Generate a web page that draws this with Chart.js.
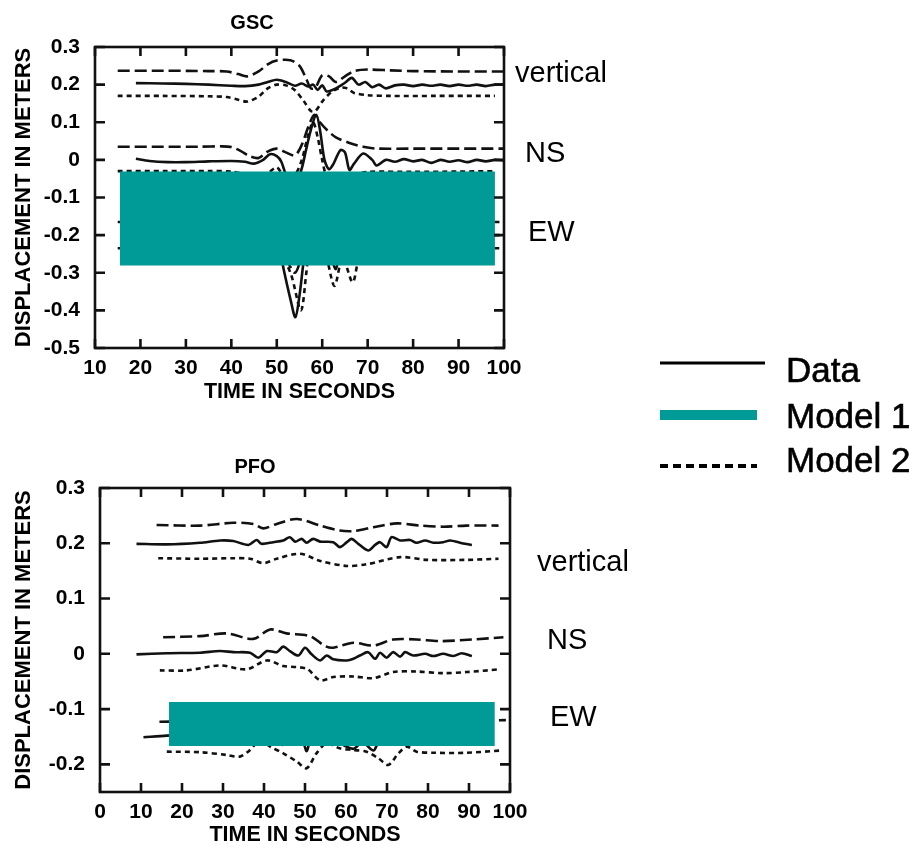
<!DOCTYPE html>
<html>
<head>
<meta charset="utf-8">
<script src="https://cdn.jsdelivr.net/npm/chart.js@4.4.1/dist/chart.umd.min.js"></script>
<style>
  body { margin: 0; background: #fff; }
  #page { position: relative; width: 921px; height: 849px; overflow: hidden; font-family: "Liberation Sans", Arial, sans-serif; }
  canvas { position: absolute; }
  .lbl { position: absolute; font-size: 29px; line-height: 1; color: #000; white-space: nowrap; }
  .leg { position: absolute; font-size: 35px; line-height: 1; color: #000; white-space: nowrap; -webkit-text-stroke: 0.6px #000; }
</style>
</head>
<body>
<div id="page">
  <canvas id="gsc" width="600" height="410" style="left:0;top:0"></canvas>
  <canvas id="pfo" width="606" height="409" style="left:0;top:440px"></canvas>

  <span class="lbl" style="left:515px;top:58px">vertical</span>
  <span class="lbl" style="left:525px;top:138px">NS</span>
  <span class="lbl" style="left:528px;top:217px">EW</span>
  <span class="lbl" style="left:537px;top:547px">vertical</span>
  <span class="lbl" style="left:547px;top:625px">NS</span>
  <span class="lbl" style="left:550px;top:702px">EW</span>

  <svg style="position:absolute;left:0;top:0" width="921" height="849">
    <line x1="660" y1="363" x2="765" y2="363" stroke="#000" stroke-width="3"/>
    <line x1="660" y1="415" x2="757" y2="415" stroke="#009a97" stroke-width="10"/>
    <line x1="660" y1="466" x2="757" y2="466" stroke="#000" stroke-width="4" stroke-dasharray="8 5"/>
  </svg>
  <span class="leg" style="left:786px;top:352px">Data</span>
  <span class="leg" style="left:786px;top:398px">Model 1</span>
  <span class="leg" style="left:786px;top:442px">Model 2</span>
</div>

<script>
// GSC station, [time s, displacement m]
const gscVerticalData = [[19,0.204],[25,0.203],[30,0.202],[35,0.2],[40,0.197],[43,0.196],[46,0.2],[48,0.207],[50,0.213],[52,0.207],[54,0.197],[55.5,0.203],[57,0.195],[58,0.2],[59,0.186],[60,0.198],[61,0.182],[63,0.19],[65,0.205],[66.5,0.218],[68,0.2],[69.5,0.207],[71,0.193],[72.5,0.2],[74,0.19],[76,0.198],[78,0.2],[80,0.196],[82,0.2],[84,0.197],[86,0.2],[88,0.196],[90,0.2],[92,0.197],[94,0.2],[96,0.196],[98,0.2],[100,0.2]];
const gscVerticalModel1 = [[15,0.237],[25,0.237],[35,0.236],[39,0.235],[41.5,0.228],[43.5,0.222],[46,0.235],[48,0.254],[50,0.264],[53,0.265],[55,0.25],[56.5,0.215],[57.5,0.19],[58.5,0.192],[60,0.225],[61.5,0.222],[63,0.207],[65,0.222],[67,0.236],[70,0.24],[75,0.238],[80,0.236],[90,0.235],[100,0.235]];
const gscVerticalModel2 = [[15,0.17],[25,0.17],[35,0.169],[39,0.167],[41.5,0.16],[43.5,0.155],[46,0.168],[48,0.19],[50,0.2],[52,0.198],[54,0.185],[56,0.155],[57.5,0.13],[58.5,0.13],[60,0.155],[62,0.18],[64,0.192],[65.5,0.19],[67,0.178],[70,0.172],[75,0.17],[85,0.17],[98,0.17]];
const gscNSData = [[19,0.003],[22,-0.003],[26,-0.006],[30,-0.006],[35,-0.004],[40,-0.003],[43,-0.005],[45,-0.01],[47,0],[48.5,0.015],[50,0.01],[51,-0.005],[52,-0.04],[53,-0.06],[55,-0.04],[56.5,0.03],[57.5,0.08],[58.7,0.12],[59.5,0.08],[60.5,0],[61.5,-0.025],[62.5,-0.01],[64,0.026],[65,0.02],[66,-0.027],[67,-0.01],[69,0.017],[71,0],[72,-0.015],[74,0],[76,-0.005],[78,0.002],[80,-0.004],[82,0],[84,-0.008],[86,0],[88,-0.005],[90,-0.001],[92,-0.006],[94,0],[96,-0.004],[98,0],[100,-0.002]];
const gscNSModel1 = [[15,0.035],[25,0.035],[33,0.035],[38,0.036],[40,0.034],[42,0.024],[44,0.01],[46,0.005],[48,0.022],[50,0.03],[52,0.02],[54,0.012],[55.5,0.04],[57,0.09],[58.3,0.12],[59.5,0.1],[61,0.08],[63,0.06],[66,0.045],[69,0.035],[72,0.03],[80,0.03],[90,0.03],[100,0.03]];
const gscNSModel2 = [[15,-0.03],[25,-0.03],[35,-0.03],[40,-0.031],[44,-0.04],[48,-0.035],[50,-0.02],[52,-0.05],[54,-0.04],[55.5,0],[57,0.07],[58,0.1],[59,0.06],[60,0],[61,-0.04],[64,-0.05],[67,-0.04],[70,-0.032],[80,-0.032],[90,-0.031],[98,-0.03]];
const gscEWData = [[19,-0.2],[30,-0.2],[40,-0.2],[46,-0.19],[49,-0.2],[50.5,-0.23],[51.5,-0.29],[53,-0.37],[54.1,-0.418],[55,-0.36],[55.8,-0.28],[57,-0.17],[58.5,-0.12],[60,-0.18],[62,-0.26],[63,-0.29],[64,-0.24],[66,-0.2],[67,-0.26],[68,-0.22],[71,-0.2],[80,-0.2],[90,-0.2],[99,-0.2]];
const gscEWModel1 = [[15,-0.165],[30,-0.165],[45,-0.165],[50,-0.2],[52,-0.26],[54,-0.3],[55.5,-0.25],[57,-0.15],[59,-0.12],[61,-0.2],[62.5,-0.27],[64,-0.2],[66,-0.22],[67,-0.25],[69,-0.18],[75,-0.165],[90,-0.165],[99,-0.165]];
const gscEWModel2 = [[15,-0.235],[30,-0.235],[45,-0.235],[50,-0.24],[53,-0.3],[55.3,-0.4],[56.5,-0.3],[57.5,-0.2],[59,-0.18],[61,-0.26],[62.7,-0.335],[64.5,-0.26],[66.7,-0.325],[68.5,-0.25],[72,-0.235],[85,-0.235],[99,-0.235]];
const gscBoxX = [15.5, 98];
const gscBoxY = [-0.031, -0.281];

// PFO station
const pfoVerticalData = [[8.9,0.199],[16.3,0.198],[24.4,0.201],[29.3,0.205],[32.5,0.204],[36.2,0.197],[38.2,0.206],[39.4,0.199],[42.3,0.202],[44.7,0.205],[46.3,0.211],[47.6,0.203],[49.2,0.208],[50.4,0.201],[52,0.208],[53.7,0.203],[56.9,0.202],[58.5,0.193],[60.2,0.202],[61.4,0.208],[63,0.199],[65.4,0.187],[67.1,0.197],[68.3,0.202],[69.9,0.193],[71.1,0.211],[73.2,0.205],[75.6,0.206],[77.2,0.201],[79.3,0.205],[81.3,0.201],[83.7,0.202],[85.4,0.205],[87.8,0.201],[90.7,0.197]];
const pfoVerticalModel1 = [[13.8,0.233],[24.4,0.232],[32.5,0.237],[37.4,0.235],[39.8,0.227],[43.1,0.235],[48,0.244],[53.7,0.232],[58.5,0.223],[61.8,0.222],[66.7,0.229],[72.4,0.236],[78,0.232],[83.7,0.23],[89.4,0.232],[97.2,0.232]];
const pfoVerticalModel2 = [[14.2,0.173],[24.4,0.172],[32.5,0.173],[36.6,0.172],[39.8,0.164],[43.1,0.172],[48.8,0.181],[53.7,0.168],[60.2,0.159],[65,0.162],[73.2,0.175],[79.7,0.17],[89.4,0.17],[97.2,0.172]];
const pfoNSData = [[8.9,-0.001],[16.3,0.001],[24.4,0.002],[29.3,0.005],[32.5,0.003],[36.6,0.002],[38.6,-0.007],[40.7,0.005],[43.1,0.003],[44.7,0.013],[46.3,0.005],[48.4,-0.003],[50,0.011],[51.6,-0.001],[53.7,-0.012],[55.3,-0.003],[56.9,-0.01],[60.2,-0.012],[61.8,-0.009],[63.4,-0.003],[65.4,0.003],[67.1,-0.009],[68.3,0.002],[69.9,-0.007],[71.5,0.003],[73.2,-0.005],[74.4,0.003],[76.4,-0.003],[79.3,0],[81.3,-0.004],[83.7,0],[86.2,-0.004],[88.2,0.001],[90.7,-0.004]];
const pfoNSModel1 = [[15.4,0.03],[24.4,0.032],[30.9,0.037],[37.4,0.027],[41.5,0.044],[45.5,0.037],[51.2,0.032],[54.9,0.014],[56.9,0.011],[61.8,0.02],[66.7,0.015],[71.5,0.026],[77.2,0.026],[82.9,0.023],[91,0.026],[98.4,0.03]];
const pfoNSModel2 = [[14.6,-0.03],[21.1,-0.03],[29.3,-0.021],[35.8,-0.028],[40.7,-0.012],[44.7,-0.022],[50.4,-0.027],[53.7,-0.048],[56.9,-0.042],[61.8,-0.041],[66.7,-0.044],[71.5,-0.033],[77.2,-0.032],[83.7,-0.035],[89.4,-0.033],[97.6,-0.028]];
const pfoEWData = [[10.6,-0.151],[16.3,-0.148],[25,-0.146],[35,-0.145],[42,-0.15],[44.5,-0.165],[47,-0.15],[49.5,-0.16],[50.4,-0.176],[51.5,-0.155],[55,-0.15],[58,-0.16],[61.8,-0.172],[64,-0.16],[66.7,-0.175],[68,-0.16],[72,-0.15],[80,-0.15],[91,-0.15]];
const pfoEWModel1 = [[14.5,-0.123],[25,-0.122],[40,-0.125],[50,-0.13],[60,-0.125],[70,-0.13],[80,-0.122],[90,-0.121],[99,-0.12]];
const pfoEWModel2 = [[16.3,-0.177],[24.4,-0.178],[30.9,-0.183],[34.1,-0.186],[36.6,-0.174],[39,-0.156],[41.5,-0.168],[44.7,-0.18],[48,-0.195],[50.4,-0.207],[52.8,-0.18],[55.3,-0.162],[58.5,-0.171],[61.8,-0.174],[65,-0.177],[67.9,-0.189],[70.3,-0.201],[72.8,-0.18],[74.8,-0.168],[77.2,-0.177],[81.3,-0.179],[89.4,-0.179],[97.6,-0.175]];
const pfoBoxX = [16.8, 96.3];
const pfoBoxY = [-0.087, -0.167];

const TEAL = '#009a97';
const INK = '#111';

Chart.defaults.font.family = '"Liberation Sans", Arial, sans-serif';
Chart.defaults.color = '#000';

function pts(arr) {
  return arr.map(p => ({x: p[0], y: p[1]}));
}

function trace(arr, kind) {
  let dash = [];
  if (kind == 'm1') dash = [12, 5];
  if (kind == 'm2') dash = [5, 4];
  return {
    data: pts(arr),
    borderColor: INK,
    borderWidth: 2.6,
    borderDash: dash,
    pointRadius: 0,
    tension: 0.3,
    fill: false
  };
}

function boxSets(bx, by) {
  return [
    { data: [{x: bx[0], y: by[0]}, {x: bx[1], y: by[0]}], fill: '+1', backgroundColor: TEAL,
      borderColor: 'rgba(0,0,0,0)', borderWidth: 0, pointRadius: 0, tension: 0 },
    { data: [{x: bx[0], y: by[1]}, {x: bx[1], y: by[1]}], fill: false,
      borderColor: 'rgba(0,0,0,0)', borderWidth: 0, pointRadius: 0, tension: 0 }
  ];
}

function tickText(v) {
  const r = Math.round(v * 100) / 100;
  if (Math.abs(r * 10 - Math.round(r * 10)) > 1e-6) return '';
  return r == 0 ? '0' : String(r);
}

// frame + inward ticks on all four sides
const frameTicks = {
  id: 'frameTicks',
  afterDatasetsDraw(chart) {
    const ctx = chart.ctx, a = chart.chartArea;
    const xs = chart.scales.x, ys = chart.scales.y;
    ctx.save();
    ctx.strokeStyle = INK;
    ctx.lineWidth = 2.6;
    ctx.strokeRect(a.left, a.top, a.right - a.left, a.bottom - a.top);
    ctx.beginPath();
    xs.ticks.forEach(t => {
      if (tickText(t.value) === '') return;
      const px = xs.getPixelForValue(t.value);
      ctx.moveTo(px, a.bottom); ctx.lineTo(px, a.bottom - 9);
      ctx.moveTo(px, a.top); ctx.lineTo(px, a.top + 9);
    });
    ys.ticks.forEach(t => {
      if (tickText(t.value) === '') return;
      const py = ys.getPixelForValue(t.value);
      ctx.moveTo(a.left, py); ctx.lineTo(a.left + 10, py);
      ctx.moveTo(a.right, py); ctx.lineTo(a.right - 10, py);
    });
    ctx.stroke();
    ctx.restore();
  }
};

function makeChart(id, title, sets, xr, yr, lay) {
  new Chart(document.getElementById(id), {
    type: 'line',
    data: { datasets: sets },
    plugins: [frameTicks],
    options: {
      responsive: false,
      animation: false,
      events: [],
      layout: { padding: { left: 0, right: lay.right, top: 0, bottom: 0 } },
      plugins: {
        legend: { display: false },
        tooltip: { enabled: false },
        title: { display: true, text: title, color: '#000', font: { size: 20, weight: 'bold' },
                 padding: { top: lay.titleTop, bottom: lay.titleBottom } }
      },
      scales: {
        x: {
          type: 'linear', min: xr[0], max: xr[1],
          grid: { display: false, drawTicks: false },
          border: { display: false },
          ticks: { stepSize: 10, autoSkip: false, maxRotation: 0, padding: 8, color: '#000',
                   font: { size: 21, weight: 'bold' }, callback: v => tickText(v) },
          title: { display: true, text: 'TIME IN SECONDS', color: '#000', font: { size: 21.5, weight: 'bold' },
                   padding: { top: 0, bottom: lay.xTitleBottom } },
          afterFit: s => { s.height = lay.xHeight; s.paddingLeft = 0; s.paddingRight = 0; }
        },
        y: {
          min: yr[0], max: yr[1],
          grid: { display: false, drawTicks: false },
          border: { display: false },
          ticks: { stepSize: 0.1, autoSkip: false, padding: 15, color: '#000',
                   font: { size: 21, weight: 'bold' }, callback: v => tickText(v) },
          title: { display: true, text: 'DISPLACEMENT IN METERS', color: '#000', font: { size: 22, weight: 'bold' },
                   padding: { top: 11, bottom: 0 } },
          afterFit: s => { s.width = lay.yWidth; s.paddingTop = 0; s.paddingBottom = 0; }
        }
      }
    }
  });
}

makeChart('gsc', 'GSC', boxSets(gscBoxX, gscBoxY).concat([
  trace(gscVerticalData, 'data'), trace(gscVerticalModel1, 'm1'), trace(gscVerticalModel2, 'm2'),
  trace(gscNSData, 'data'), trace(gscNSModel1, 'm1'), trace(gscNSModel2, 'm2'),
  trace(gscEWData, 'data'), trace(gscEWModel1, 'm1'), trace(gscEWModel2, 'm2')
]), [10, 100], [-0.5, 0.3],
  { right: 96, titleTop: 11, titleBottom: 12, xHeight: 62, xTitleBottom: 5, yWidth: 95 });

makeChart('pfo', 'PFO', boxSets(pfoBoxX, pfoBoxY).concat([
  trace(pfoVerticalData, 'data'), trace(pfoVerticalModel1, 'm1'), trace(pfoVerticalModel2, 'm2'),
  trace(pfoNSData, 'data'), trace(pfoNSModel1, 'm1'), trace(pfoNSModel2, 'm2'),
  trace(pfoEWData, 'data'), trace(pfoEWModel1, 'm1'), trace(pfoEWModel2, 'm2')
]), [0, 100], [-0.25, 0.3],
  { right: 96, titleTop: 15, titleBottom: 9, xHeight: 57, xTitleBottom: 1, yWidth: 100 });
</script>
</body>
</html>
